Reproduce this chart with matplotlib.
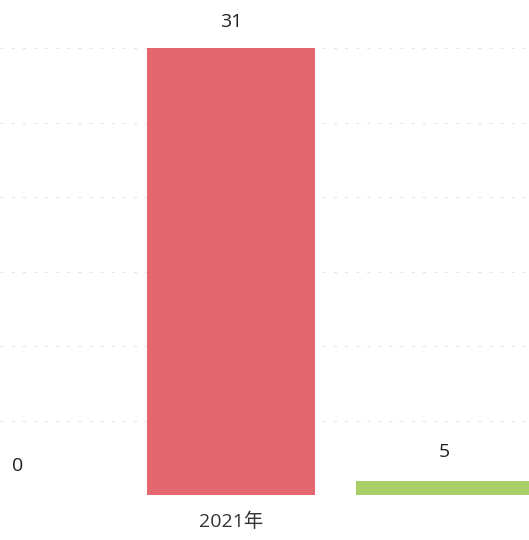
import numpy as np
import matplotlib
matplotlib.use("Agg")
import matplotlib.pyplot as plt

plt.rcParams['font.family'] = ['Open Sans', 'Noto Sans CJK SC', 'DejaVu Sans']

categories = ['2021年']
series_a = [0]      # leftmost, empty bar
series_b = [31]     # red bar
series_c = [5]      # green bar (drawn on its own scale)
colors = ['#5B9BD5', '#E4666F', '#A9CF68']

fig = plt.figure(figsize=(5.29, 5.40), dpi=100)
ax = fig.add_axes([0, 45/540, 1, 495/540])
ax2 = ax.twinx()

x = np.arange(len(categories))
step = 1.0
w = 0.79

ax.bar(x - step, series_a, w, color=colors[0], zorder=3)
ax.bar(x, series_b, w, color=colors[1], zorder=3)
ax2.bar(x + step, series_c, w * 1.05, color=colors[2], zorder=3)

ax.set_xlim(-1.085, 1.40)
ax.set_ylim(0, 31 * 495 / 447)
ax2.set_ylim(0, 5 * 495 / 14)

# faint dashed gridlines
ax.set_yticks(np.linspace(0, 31, 7))
ax.yaxis.grid(True, color='#e6e6e6', linestyle=(0, (3, 7)), linewidth=0.8, zorder=0)
ax.set_yticklabels([])
ax.tick_params(axis='y', length=0)
ax2.set_yticks([])

ax.set_xticks(x)
ax.set_xticklabels(categories, fontsize=14, color='#333333')
ax.tick_params(axis='x', length=0, pad=13)

for a in (ax, ax2):
    for s in a.spines.values():
        s.set_visible(False)

# value labels
for xi, v in zip(x - step, series_a):
    ax.annotate(str(v), (xi, v), xytext=(0, 21), textcoords='offset points',
                ha='center', va='center', fontsize=14, color='#222222')
for xi, v in zip(x, series_b):
    ax.annotate(str(v), (xi, v), xytext=(0, 19), textcoords='offset points',
                ha='center', va='center', fontsize=14, color='#222222', annotation_clip=False)
for xi, v in zip(x + step, series_c):
    ax2.annotate(str(v), (xi, v), xytext=(0, 21), textcoords='offset points',
                 ha='center', va='center', fontsize=14, color='#222222')

fig.savefig('out.png', dpi=100, facecolor='white')
